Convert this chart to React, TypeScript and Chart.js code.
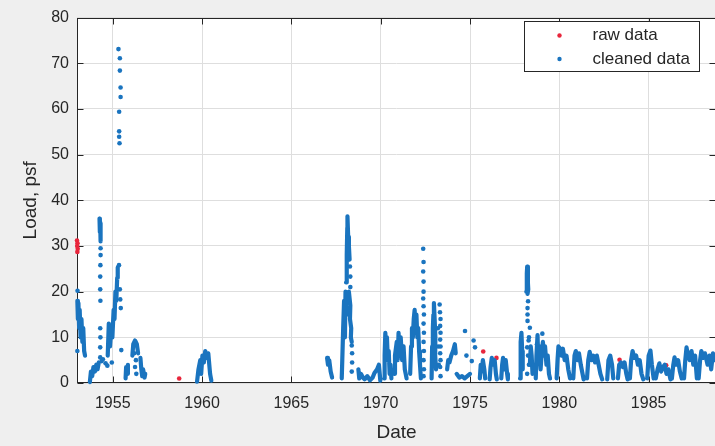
import React, { useEffect, useRef } from 'react';
import { Chart, registerables } from 'chart.js';

Chart.register(...registerables);

// ---------- data ----------
const xTickValues = [1955, 1960, 1965, 1970, 1975, 1980, 1985];
const yTickValues = [0, 10, 20, 30, 40, 50, 60, 70, 80];
const xLimits = [1953.0, 1988.77];
const yLimits = [0, 80];
const seriesLabels = ['raw data', 'cleaned data'];
const axisTitles = { x: 'Date', y: 'Load, psf' };

// raw points left visible (not hidden under cleaned data)
const rawData: [number, number][] = [
  [1953.0, 31.2], [1953.03, 30.6], [1953.01, 30.0], [1953.04, 29.4], [1953.02, 28.7],
  [1958.72, 1.0], [1975.74, 6.9], [1976.48, 5.5], [1983.37, 5.1], [1985.98, 3.9],
];

// dense runs of daily cleaned values (drawn as thick runs of dots)
const cleanedRuns: [number, number][][] = [
  [[1953.02, 18], [1953.05, 14], [1953.08, 17.5], [1953.12, 12], [1953.15, 16], [1953.2, 10], [1953.25, 14], [1953.3, 9], [1953.35, 12], [1953.4, 7], [1953.45, 6]],
  [[1953.72, 0.2], [1953.78, 2.5], [1953.85, 1.5], [1953.92, 3.5], [1954.0, 2.5], [1954.08, 4], [1954.15, 3], [1954.22, 4.5]],
  [[1954.26, 36], [1954.28, 33], [1954.3, 35], [1954.32, 31]],
  [[1954.72, 6], [1954.78, 13], [1954.85, 8], [1954.92, 12], [1954.98, 10], [1955.05, 16], [1955.1, 14], [1955.15, 20], [1955.2, 18], [1955.25, 23], [1955.28, 25.3]],
  [[1955.72, 1], [1955.75, 3.5], [1955.8, 2], [1955.85, 4]],
  [[1956.1, 6], [1956.15, 8.5], [1956.25, 9.3], [1956.35, 8.5], [1956.42, 6.5]],
  [[1956.55, 5.5], [1956.6, 3], [1956.65, 1.5], [1956.7, 3], [1956.78, 1.2], [1956.82, 2]],
  [[1959.72, 0.3], [1959.8, 3], [1959.9, 5], [1959.95, 2], [1960.02, 6], [1960.1, 4.5], [1960.18, 7], [1960.28, 5.5], [1960.35, 6.5], [1960.45, 2], [1960.52, 0.5]],
  [[1967.0, 5.5], [1967.05, 4], [1967.12, 5], [1967.2, 2.5], [1967.28, 1.2]],
  [[1967.82, 1], [1967.85, 5], [1967.9, 12], [1967.95, 18], [1968.0, 10], [1968.03, 20], [1968.08, 15]],
  [[1968.06, 22], [1968.1, 28], [1968.13, 34], [1968.14, 36.5], [1968.18, 32], [1968.22, 30], [1968.26, 27]],
  [[1968.22, 20], [1968.3, 17], [1968.28, 14], [1968.35, 12], [1968.33, 10], [1968.38, 9]],
  [[1968.75, 3], [1968.8, 1], [1968.9, 2], [1969.0, 1.2], [1969.1, 0.8], [1969.25, 1.5], [1969.4, 0.6], [1969.55, 1.2], [1969.65, 2.2], [1969.8, 3], [1969.9, 4], [1969.98, 0.5]],
  [[1970.2, 1], [1970.22, 6], [1970.26, 11], [1970.3, 8], [1970.35, 10], [1970.4, 5], [1970.45, 7], [1970.5, 2], [1970.55, 4], [1970.6, 1]],
  [[1970.75, 2], [1970.8, 6], [1970.9, 9], [1970.95, 5], [1971.0, 11], [1971.05, 7], [1971.12, 10], [1971.2, 5], [1971.28, 8], [1971.35, 3], [1971.45, 1]],
  [[1971.65, 2], [1971.7, 8], [1971.75, 12], [1971.8, 10], [1971.85, 14], [1971.9, 16], [1971.95, 12], [1972.0, 15], [1972.05, 10], [1972.1, 12], [1972.15, 7], [1972.2, 4], [1972.25, 1]],
  [[1972.85, 1], [1972.88, 8], [1972.92, 12], [1972.95, 15], [1972.98, 17.5], [1973.02, 14], [1973.06, 10], [1973.05, 6], [1973.1, 3]],
  [[1973.72, 3], [1973.78, 5], [1973.85, 4.5], [1973.95, 6], [1974.05, 7], [1974.15, 8.5], [1974.2, 6.5]],
  [[1974.25, 2], [1974.4, 1.2], [1974.55, 1.5], [1974.7, 1], [1974.85, 1.5], [1975.0, 2]],
  [[1975.55, 1], [1975.6, 4], [1975.65, 2.5], [1975.72, 5], [1975.8, 3], [1975.85, 1]],
  [[1976.1, 0.8], [1976.15, 3.5], [1976.22, 5.5], [1976.3, 4], [1976.38, 5], [1976.45, 2], [1976.5, 0.8]],
  [[1976.75, 1], [1976.8, 4], [1976.85, 5.5], [1976.92, 3], [1977.0, 5], [1977.08, 2], [1977.12, 0.8]],
  [[1977.8, 1], [1977.82, 5], [1977.85, 9], [1977.88, 11], [1977.92, 7], [1977.95, 3]],
  [[1978.15, 20], [1978.18, 24], [1978.2, 25.5], [1978.24, 22], [1978.26, 20.5], [1978.22, 19.5]],
  [[1978.35, 4], [1978.4, 8], [1978.45, 6], [1978.5, 2]],
  [[1978.68, 1], [1978.72, 6], [1978.78, 10.5], [1978.82, 5], [1978.88, 8], [1978.95, 3], [1979.02, 7], [1979.08, 9], [1979.15, 6], [1979.2, 8], [1979.28, 4], [1979.35, 6], [1979.42, 2], [1979.48, 1]],
  [[1979.85, 1], [1979.9, 5], [1979.95, 8], [1980.05, 7.5], [1980.12, 6], [1980.2, 7.5], [1980.3, 5], [1980.4, 6], [1980.5, 3], [1980.6, 1]],
  [[1980.78, 1], [1980.85, 6], [1980.92, 7], [1981.02, 5], [1981.1, 6.5], [1981.2, 4], [1981.3, 2], [1981.36, 0.8]],
  [[1981.55, 1], [1981.62, 5], [1981.7, 6.8], [1981.8, 5], [1981.9, 6], [1982.0, 4.5], [1982.1, 6], [1982.2, 4], [1982.3, 2], [1982.4, 0.8]],
  [[1982.68, 0.8], [1982.75, 5], [1982.85, 6], [1982.95, 4], [1983.02, 1]],
  [[1983.28, 1], [1983.35, 4], [1983.45, 4.5], [1983.55, 3.5], [1983.65, 4.5], [1983.75, 2], [1983.82, 0.8]],
  [[1983.95, 1], [1984.02, 5], [1984.1, 7], [1984.2, 5.5], [1984.3, 6], [1984.4, 4], [1984.5, 5], [1984.6, 2], [1984.7, 0.8]],
  [[1984.92, 1], [1985.0, 6], [1985.1, 7.1], [1985.18, 4], [1985.28, 1]],
  [[1985.4, 1], [1985.5, 3], [1985.6, 4.3], [1985.7, 2.5], [1985.8, 3.5], [1985.9, 4], [1986.0, 2], [1986.1, 3], [1986.22, 0.8]],
  [[1986.3, 1], [1986.38, 4], [1986.45, 5.6], [1986.55, 4], [1986.65, 5], [1986.75, 2.5], [1986.85, 1]],
  [[1986.98, 1], [1987.05, 5], [1987.12, 7.8], [1987.2, 6], [1987.3, 5], [1987.4, 7], [1987.5, 4], [1987.6, 6], [1987.7, 1]],
  [[1987.8, 1], [1987.88, 5], [1987.95, 7], [1988.05, 5.5], [1988.15, 6.5], [1988.3, 4], [1988.4, 6], [1988.5, 3], [1988.6, 6.5], [1988.7, 5]],
];

// isolated cleaned values
const cleanedDots: [number, number][] = [
  [1953.03, 20.2], [1953.02, 7],
  [1954.45, 5.2], [1954.6, 4.3], [1954.7, 3.8], [1954.3, 5.6], [1954.38, 4.8],
  [1954.32, 29.5], [1954.32, 28], [1954.31, 25.8], [1954.3, 23.3], [1954.3, 20.5], [1954.31, 18], [1954.3, 12], [1954.31, 10], [1954.3, 7.8],
  [1955.35, 25.8], [1955.42, 18.3], [1955.45, 16.4], [1955.48, 7.2], [1954.95, 4.5], [1955.4, 20.5],
  [1955.32, 73.1], [1955.4, 71.1], [1955.4, 68.4], [1955.44, 64.7], [1955.44, 62.6], [1955.36, 59.4], [1955.36, 55.1], [1955.36, 53.9], [1955.38, 52.5],
  [1956.2, 6.5], [1956.3, 5], [1956.25, 3.5], [1956.32, 2],
  [1968.28, 25.5], [1968.3, 23.3], [1968.3, 21], [1968.38, 8.2], [1968.4, 6.5], [1968.4, 4.5], [1968.38, 2.5],
  [1972.38, 29.4], [1972.4, 26.5], [1972.38, 24.4], [1972.4, 22.2], [1972.4, 20], [1972.38, 18.5], [1972.4, 16.8], [1972.42, 15], [1972.4, 13], [1972.42, 11], [1972.4, 9], [1972.42, 7], [1972.4, 5], [1972.42, 3], [1972.4, 1.5],
  [1973.3, 17.2], [1973.32, 15.5], [1973.35, 14], [1973.33, 12.5], [1973.35, 11], [1973.33, 9.5], [1973.35, 8], [1973.33, 6.5], [1973.35, 5], [1973.33, 3.5], [1973.35, 1.5], [1973.2, 12], [1973.22, 8], [1973.25, 4],
  [1974.72, 11.4], [1975.2, 9.3], [1975.28, 7.8], [1974.8, 6], [1975.1, 4.8],
  [1978.25, 17.9], [1978.22, 16.4], [1978.22, 15], [1978.22, 13.6], [1978.35, 12.1], [1978.3, 10], [1978.28, 9.3], [1978.2, 7.8], [1978.25, 6], [1978.3, 4], [1978.2, 2],
  [1978.75, 8.5], [1979.05, 10.8],
];

// ---------- styles ----------
const RAW_COLOR = '#e8263c';
const CLEAN_COLOR = '#1a74bf';
const AXIS_COLOR = '#262626';
const GRID_COLOR = '#dedede';
const FONT = "'Liberation Sans', Arial, Helvetica, sans-serif";

const toXY = (pts: [number, number][]) => pts.map(([x, y]) => ({ x, y }));

const framePlugin = {
  id: 'matlabFrame',
  beforeDraw(chart: any) {
    const { ctx, chartArea: a } = chart;
    ctx.save();
    ctx.fillStyle = '#ffffff';
    ctx.fillRect(a.left, a.top, a.right - a.left, a.bottom - a.top);
    ctx.restore();
  },
  beforeDatasetsDraw(chart: any) {
    const { ctx, chartArea: a, scales } = chart;
    const L = Math.round(a.left) + 0.5;
    const R = Math.round(a.right) - 0.5;
    const T = Math.round(a.top) + 0.5;
    const B = Math.round(a.bottom) - 0.5;
    ctx.save();
    ctx.strokeStyle = AXIS_COLOR;
    ctx.lineWidth = 1;
    ctx.strokeRect(L, T, R - L, B - T);
    const tl = 6;
    ctx.beginPath();
    xTickValues.forEach((v) => {
      const px = Math.round(scales.x.getPixelForValue(v)) + 0.5;
      ctx.moveTo(px, B); ctx.lineTo(px, B - tl);
      ctx.moveTo(px, T); ctx.lineTo(px, T + tl);
    });
    yTickValues.forEach((v) => {
      const py = Math.round(scales.y.getPixelForValue(v)) + 0.5;
      ctx.moveTo(L, py); ctx.lineTo(L + tl, py);
      ctx.moveTo(R, py); ctx.lineTo(R - tl, py);
    });
    ctx.stroke();
    ctx.restore();
  },
};

const legendPlugin = {
  id: 'matlabLegend',
  afterDraw(chart: any) {
    const { ctx } = chart;
    const entries = chart.data.datasets.filter((d: any) => d.inLegend);
    entries.sort((a: any, b: any) => a.legendRank - b.legendRank);
    const bx = 524.5, by = 21.5, bw = 175, bh = 50;
    ctx.save();
    ctx.fillStyle = '#ffffff';
    ctx.fillRect(bx, by, bw, bh);
    ctx.strokeStyle = AXIS_COLOR;
    ctx.lineWidth = 1;
    ctx.strokeRect(bx, by, bw, bh);
    ctx.font = `17px ${FONT}`;
    ctx.textBaseline = 'middle';
    ctx.textAlign = 'left';
    entries.forEach((d: any, i: number) => {
      const cy = by + 14 + i * 23.5;
      ctx.fillStyle = d.pointBackgroundColor;
      ctx.beginPath();
      ctx.arc(bx + 35, cy, 2.2, 0, Math.PI * 2);
      ctx.fill();
      ctx.fillStyle = AXIS_COLOR;
      ctx.fillText(d.label, bx + 68, cy);
    });
    ctx.restore();
  },
};

export default function App() {
  const canvasRef = useRef<HTMLCanvasElement | null>(null);

  useEffect(() => {
    if (!canvasRef.current) return;
    const runData: any[] = [];
    cleanedRuns.forEach((run) => {
      toXY(run).forEach((p) => runData.push(p));
      runData.push({ x: run[run.length - 1][0], y: null });
    });

    const chart = new Chart(canvasRef.current, {
      type: 'scatter',
      data: {
        datasets: [
          {
            label: seriesLabels[1],
            data: toXY(cleanedDots),
            pointRadius: 2.3,
            pointBackgroundColor: CLEAN_COLOR,
            pointBorderWidth: 0,
            borderColor: CLEAN_COLOR,
            clip: 4,
            inLegend: true,
            legendRank: 1,
          } as any,
          {
            label: '',
            data: runData,
            showLine: true,
            spanGaps: false,
            pointRadius: 0,
            borderColor: CLEAN_COLOR,
            borderWidth: 4.2,
            borderCapStyle: 'round',
            borderJoinStyle: 'round',
            tension: 0,
            clip: 4,
          } as any,
          {
            label: seriesLabels[0],
            data: toXY(rawData),
            pointRadius: 2.3,
            pointBackgroundColor: RAW_COLOR,
            pointBorderWidth: 0,
            borderColor: RAW_COLOR,
            clip: 6,
            inLegend: true,
            legendRank: 0,
          } as any,
        ],
      },
      options: {
        animation: false,
        responsive: false,
        devicePixelRatio: 1,
        layout: { padding: { left: 0, top: 10, right: 4, bottom: 0 } },
        plugins: { legend: { display: false }, tooltip: { enabled: false }, title: { display: false } },
        scales: {
          x: {
            type: 'linear',
            min: xLimits[0],
            max: xLimits[1],
            afterBuildTicks: (s: any) => { s.ticks = xTickValues.map((v) => ({ value: v })); },
            afterFit: (s: any) => { s.height = 63; },
            ticks: {
              color: AXIS_COLOR,
              font: { family: FONT, size: 16 },
              padding: 11,
              maxRotation: 0,
              autoSkip: false,
              callback: (v: any) => String(v),
            },
            grid: { color: GRID_COLOR, drawTicks: false },
            border: { display: false },
            title: { display: true, text: axisTitles.x, color: AXIS_COLOR, font: { family: FONT, size: 19 }, padding: { top: 0, bottom: 2 } },
          },
          y: {
            type: 'linear',
            min: yLimits[0],
            max: yLimits[1],
            afterBuildTicks: (s: any) => { s.ticks = yTickValues.map((v) => ({ value: v })); },
            afterFit: (s: any) => { s.width = 77; },
            ticks: {
              color: AXIS_COLOR,
              font: { family: FONT, size: 16 },
              padding: 8,
              callback: (v: any) => String(v),
            },
            grid: { color: GRID_COLOR, drawTicks: false },
            border: { display: false },
            title: { display: true, text: axisTitles.y, color: AXIS_COLOR, font: { family: FONT, size: 19 }, padding: { top: 19, bottom: 0 } },
          },
        },
      } as any,
      plugins: [framePlugin, legendPlugin],
    });
    return () => chart.destroy();
  }, []);

  return (
    <div style={{ position: 'fixed', left: 0, top: 0, width: 715, height: 446, overflow: 'hidden', background: '#efefef' }}>
      <canvas ref={canvasRef} width={720} height={446} style={{ display: 'block' }} />
    </div>
  );
}
